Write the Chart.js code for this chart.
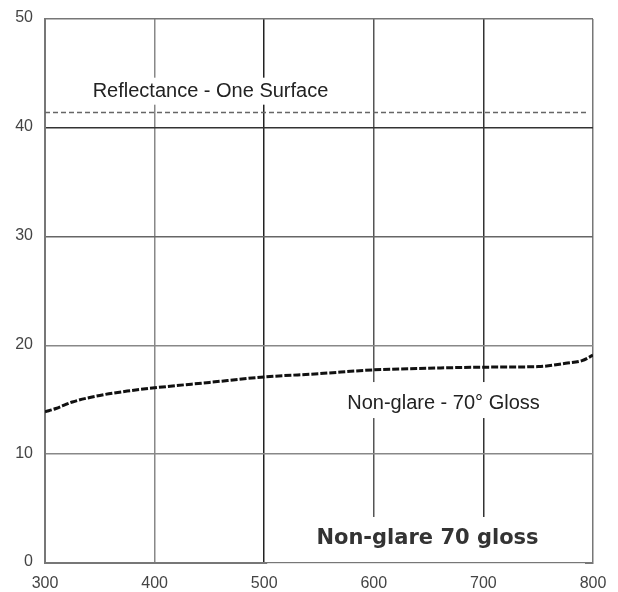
<!DOCTYPE html>
<html lang="en">

<head>
    <meta charset="UTF-8">
    <title>Non-glare 70 gloss</title>
    <style>
        body { margin: 0; background: #fff; }
        canvas { display: block; }
    </style>
</head>

<body>
    <canvas id="myChart" width="618" height="592"></canvas>

    <script src="https://cdn.jsdelivr.net/npm/chart.js@4.4.1/dist/chart.umd.min.js"></script>
    <script>
        // values
        const wavelengths = [300, 310, 325, 350, 375, 400, 450, 500, 550, 600, 650, 700, 750, 775, 790, 800];
        const nonGlare = [13.9, 14.2, 14.8, 15.4, 15.8, 16.1, 16.6, 17.1, 17.4, 17.75, 17.9, 18.0, 18.05, 18.35, 18.6, 19.1];
        const reflectanceX = [300, 796];
        const reflectance = [41.4, 41.4];
        const xTicks = [300, 400, 500, 600, 700, 800];
        const yTicks = [0, 10, 20, 30, 40, 50];

        const xGridColors = { 300: '#777', 400: '#888', 500: '#222', 600: '#555', 700: '#333', 800: '#777' };
        const yGridColors = { 0: '#777', 10: '#888', 20: '#888', 30: '#666', 40: '#333', 50: '#777' };

        // text labels drawn on the plot, placed in data units
        const labelPlugin = {
            id: 'labels',
            afterDatasetsDraw(chart) {
                const c = chart.ctx;
                const xs = chart.scales.x, ys = chart.scales.y;
                c.save();

                function label(text, xv, yv, font, color, boxTop, boxBottom) {
                    c.font = font;
                    const w = c.measureText(text).width;
                    const px = xs.getPixelForValue(xv);
                    const py = ys.getPixelForValue(yv);
                    c.fillStyle = '#fff';
                    c.fillRect(px - w / 2 - 3, py - boxTop, w + 6, boxTop + boxBottom);
                    c.fillStyle = color;
                    c.textAlign = 'center';
                    c.textBaseline = 'alphabetic';
                    c.fillText(text, px, py);
                }

                label('Reflectance - One Surface', 451, 42.86, '20px "Liberation Sans", Arial, sans-serif', '#222', 19, 8);
                label('Non-glare - 70\u00b0 Gloss', 663.6, 14.15, '20px "Liberation Sans", Arial, sans-serif', '#222', 27, 9);

                // white box at the bottom right
                const left = xs.getPixelForValue(500) + 3;
                const right = xs.getPixelForValue(800) - 8;
                const top = ys.getPixelForValue(4.23);
                const bottom = ys.getPixelForValue(0) - 1;
                c.fillStyle = '#fff';
                c.fillRect(left, top, right - left, bottom - top);
                c.strokeStyle = '#e2e2e2';
                c.lineWidth = 1;
                c.beginPath();
                c.moveTo(left, bottom + 1.5);
                c.lineTo(right, bottom + 1.5);
                c.stroke();

                c.font = 'bold 21px "DejaVu Sans", Verdana, sans-serif';
                c.fillStyle = '#333';
                c.textAlign = 'center';
                c.fillText('Non-glare 70 gloss', xs.getPixelForValue(649), ys.getPixelForValue(1.75));
                c.restore();
            }
        };

        var ctx = document.getElementById('myChart');
        var config = {
            type: 'line',
            data: {
                datasets: [
                    {
                        label: 'Non-glare - 70° Gloss',
                        data: wavelengths.map((w, i) => ({ x: w, y: nonGlare[i] })),
                        borderColor: '#111',
                        borderWidth: 3,
                        borderDash: [7, 2],
                        pointRadius: 0,
                        cubicInterpolationMode: 'monotone',
                        fill: false
                    },
                    {
                        label: 'Reflectance - One Surface',
                        data: reflectanceX.map((w, i) => ({ x: w, y: reflectance[i] })),
                        borderColor: '#666',
                        borderWidth: 1.5,
                        borderDash: [5, 3],
                        pointRadius: 0,
                        fill: false
                    }
                ]
            },
            options: {
                responsive: false,
                animation: false,
                layout: { padding: { top: 19, right: 25, left: 0, bottom: 0 } },
                plugins: {
                    legend: { display: false },
                    tooltip: { enabled: false }
                },
                scales: {
                    x: {
                        type: 'linear',
                        min: 300,
                        max: 800,
                        afterBuildTicks: axis => { axis.ticks = xTicks.map(v => ({ value: v })); },
                        afterFit: axis => { axis.height = 29; },
                        border: { display: true, color: '#777', width: 2 },
                        grid: {
                            drawTicks: false,
                            lineWidth: 1.5,
                            color: c => xGridColors[c.tick && c.tick.value] || '#777'
                        },
                        ticks: {
                            padding: 11,
                            color: '#444',
                            font: { family: '"Liberation Sans", Arial, sans-serif', size: 16 },
                            maxRotation: 0
                        }
                    },
                    y: {
                        min: 0,
                        max: 50,
                        afterBuildTicks: axis => { axis.ticks = yTicks.map(v => ({ value: v })); },
                        afterFit: axis => { axis.width = 45; },
                        border: { display: true, color: '#777', width: 2 },
                        grid: {
                            drawTicks: false,
                            lineWidth: 1.5,
                            color: c => yGridColors[c.tick && c.tick.value] || '#777'
                        },
                        ticks: {
                            padding: 12,
                            labelOffset: -1,
                            color: '#444',
                            font: { family: '"Liberation Sans", Arial, sans-serif', size: 16, lineHeight: 0.8 }
                        }
                    }
                }
            },
            plugins: [labelPlugin]
        };
        var chart = new Chart(ctx, config);
    </script>

</body>

</html>
